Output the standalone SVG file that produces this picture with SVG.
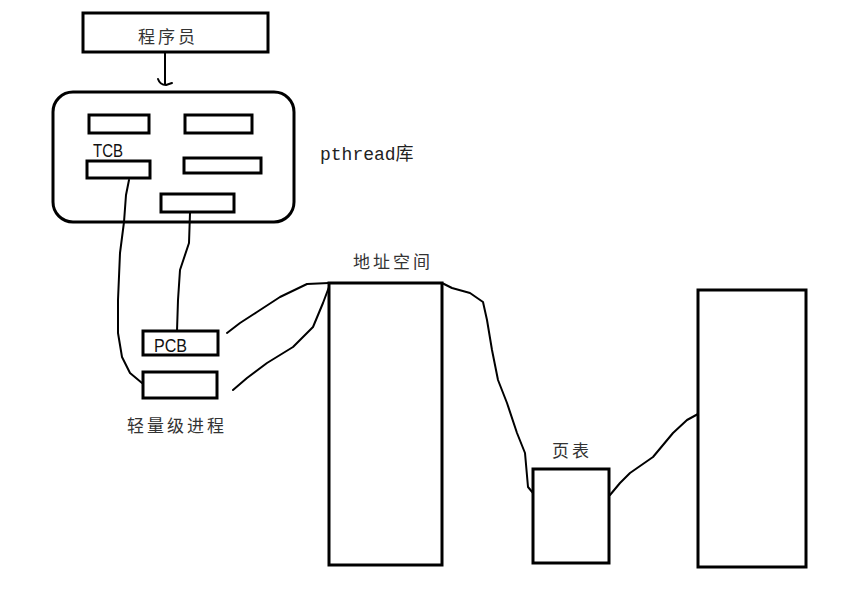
<svg xmlns="http://www.w3.org/2000/svg" width="857" height="596" viewBox="0 0 857 596">
<style>
.box{fill:#fff;stroke:#000;stroke-width:3}
.wire{fill:none;stroke:#000;stroke-width:2;stroke-linejoin:round;stroke-linecap:round}
.cn{font-family:"Noto Sans CJK SC","Liberation Sans",sans-serif;font-size:17px;fill:#333;letter-spacing:3px}
.lat{font-family:"Liberation Sans",sans-serif;font-size:19px;fill:#111}
.mono{font-family:"Liberation Mono","Noto Sans CJK SC",monospace;font-size:18px;fill:#222}
</style>
<rect width="857" height="596" fill="#fff"/>
<g id="programmer">
<rect class="box" x="83" y="13" width="185" height="39"/>
<text class="cn" x="138" y="43">程序员</text>
</g>
<g id="pthread-lib">
<rect class="box" x="53" y="92" width="241" height="130" rx="20" ry="20"/>
<rect class="box" x="89" y="115" width="60" height="18"/>
<rect class="box" x="185" y="115" width="67" height="18"/>
<rect class="box" x="87" y="161" width="63" height="17"/>
<rect class="box" x="184" y="158" width="77" height="15"/>
<rect class="box" x="161" y="194" width="73" height="18"/>
<text class="lat" x="93" y="157" textLength="30" lengthAdjust="spacingAndGlyphs">TCB</text>
</g>
<g id="pthread-label">
<text class="mono" x="320" y="160">pthread库</text>
</g>
<g id="pcb">
<rect class="box" x="143" y="331" width="75" height="24"/>
<text class="lat" x="154" y="352" textLength="33" lengthAdjust="spacingAndGlyphs">PCB</text>
</g>
<g id="lwp">
<rect class="box" x="143" y="372" width="74" height="26"/>
<text class="cn" x="127" y="432">轻量级进程</text>
</g>
<g id="address-space">
<rect class="box" x="329" y="283" width="113" height="282"/>
<text class="cn" x="353" y="268">地址空间</text>
</g>
<g id="page-table">
<rect class="box" x="533" y="469" width="76" height="94"/>
<text class="cn" x="552" y="457">页表</text>
</g>
<g id="physical-memory">
<rect class="box" x="698" y="290" width="108" height="277"/>
</g>
<g id="connectors">
<path class="wire" d="M165,53 L165,84 M158,79 Q160,85 166,85 L172,83"/>
<path class="wire" d="M129,180 L126,195 L124,222 L120,253 L118,300 L118,333 L122,357 L130,373 L142,383"/>
<path class="wire" d="M190,213 L189,243 L180,270 L178,300 L177,331"/>
<path class="wire" d="M227,333 L240,323 L257,312 L280,297 L307,284 L329,283"/>
<path class="wire" d="M233,390 L247,378 L267,363 L293,347 L313,327 L323,303 L329,287"/>
<path class="wire" d="M442,283 L452,288 L470,293 L483,302 L487,320 L492,350 L498,380 L507,403 L517,433 L525,453 L528,487 L533,493"/>
<path class="wire" d="M610,495 L620,483 L630,473 L653,457 L673,433 L687,420 L698,414"/>
</g>
</svg>
